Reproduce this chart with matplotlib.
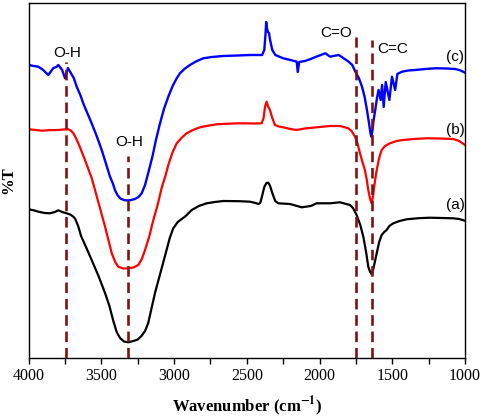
import matplotlib
matplotlib.use('Agg')
import matplotlib.pyplot as plt
import numpy as np

plt.rcParams['mathtext.fontset'] = 'stix'

# (a) black  (wavenumber, %T in arbitrary offset units)
wn_a = [4000, 3960, 3934, 3890, 3853, 3820, 3796, 3770, 3739, 3715, 3693, 3680, 3660, 3640,
        3600, 3567, 3520, 3475, 3445, 3418, 3395, 3372, 3345, 3315, 3280, 3250, 3225, 3200,
        3178, 3155, 3130, 3100, 3063, 3030, 3006, 2975, 2948, 2920, 2879, 2830, 2776, 2720,
        2662, 2550, 2478, 2440, 2421, 2408, 2395, 2380, 2365, 2352, 2340, 2325, 2305, 2284,
        2203, 2123, 2060, 2020, 1928, 1859, 1791, 1770, 1745, 1720, 1699, 1680, 1665, 1652,
        1642, 1632, 1620, 1607, 1590, 1573, 1555, 1539, 1520, 1493, 1450, 1401, 1320, 1241,
        1160, 1080, 1040, 1000]
t_a = [148.7, 147.5, 146.3, 145, 144.7, 146, 147.7, 146, 144.7, 143.5, 141.3, 139, 132, 122,
       109, 98, 82, 65, 52, 37, 26, 20, 16.5, 15.7, 17, 18.5, 22, 27,
       35, 50, 66, 82, 102, 120, 129.7, 136, 139, 142, 148, 152, 154.7, 156,
       157, 156.8, 156.3, 155, 154, 155, 162, 171, 175, 175.3, 172, 165, 157, 154.7,
       154, 150.7, 152, 154.7, 154.7, 155.7, 153, 150, 143, 133, 121.3, 106, 91.3, 86,
       84, 88, 96, 104.7, 116, 123, 126, 128, 132, 134.7, 137, 138.7, 139.8, 140.3,
       140, 139.7, 139, 137.3]

# (b) red
wn_b = [4000, 3950, 3911, 3860, 3796, 3760, 3728, 3710, 3693, 3675, 3659, 3640, 3613, 3590,
        3567, 3544, 3510, 3475, 3450, 3429, 3405, 3384, 3350, 3315, 3280, 3246, 3222, 3200,
        3170, 3143, 3110, 3086, 3060, 3040, 3010, 2982, 2950, 2914, 2870, 2822, 2760, 2707,
        2600, 2524, 2450, 2398, 2385, 2375, 2364, 2355, 2341, 2325, 2307, 2280, 2250, 2200,
        2158, 2100, 2020, 1928, 1859, 1802, 1780, 1756, 1740, 1722, 1705, 1688, 1675, 1665,
        1652, 1642, 1632, 1620, 1607, 1590, 1573, 1550, 1516, 1470, 1424, 1350, 1263, 1170,
        1080, 1040, 1000]
t_b = [228.7, 228, 227.3, 227.8, 228, 228.5, 228.7, 227.5, 224.7, 220, 214.7, 208, 198, 189,
       180, 168, 150, 131.3, 117, 104.7, 96, 91.3, 89.5, 89.7, 90.5, 93, 99, 108,
       122, 138, 155, 170, 182, 193, 206, 214.7, 220, 224.7, 228, 230.7, 232.5, 233.7,
       234.5, 234.7, 234.5, 234.7, 240, 251.3, 256.3, 252, 248, 240, 233, 231.5, 230.7, 229,
       228, 229.5, 230.7, 232, 232, 229.7, 227, 221.3, 215, 204.7, 196, 188, 178, 168,
       159, 154.7, 162, 176, 188, 200, 208, 212, 214.7, 217, 218, 219, 219.7, 219.5,
       219, 217, 213]

# (c) blue
wn_c = [4000, 3965, 3934, 3900, 3880, 3865, 3845, 3830, 3810, 3796, 3770, 3750, 3730, 3716,
        3690, 3670, 3645, 3625, 3600, 3567, 3530, 3498, 3470, 3441, 3420, 3407, 3390, 3370,
        3345, 3320, 3295, 3270, 3245, 3223, 3200, 3178, 3150, 3125, 3100, 3070, 3040, 3010,
        2985, 2960, 2925, 2891, 2850, 2800, 2740, 2662, 2560, 2478, 2395, 2380, 2372, 2367,
        2362, 2355, 2348, 2340, 2325, 2304, 2250, 2200, 2157, 2150, 2140, 2100, 2066, 2010,
        1960, 1928, 1868, 1800, 1775, 1754, 1730, 1708, 1690, 1674, 1660, 1650, 1644, 1636,
        1628, 1617, 1605, 1594, 1580, 1570, 1559, 1545, 1520, 1502, 1480, 1465, 1433, 1390,
        1342, 1270, 1204, 1130, 1067, 1030, 1000]
t_c = [293, 292, 291.3, 288, 285, 283, 287, 290, 291, 293, 288, 279.7, 290, 286.3,
       280, 271.3, 263, 254.7, 246, 234.7, 221, 208, 195, 181.3, 174, 168, 163, 159.5,
       158, 157.5, 158, 159, 161, 164.7, 173, 185, 201, 218, 233, 249, 261.3, 272,
       279, 284.7, 289.5, 293, 296.5, 299.7, 301, 302, 302.5, 303, 303, 308, 323, 336,
       330, 326, 325, 318, 308, 303, 299.7, 298, 296.3, 286, 296, 297, 298.7, 302,
       304.7, 301.3, 303, 296.3, 293, 286.3, 280, 271.3, 261, 248, 235, 225, 221.3, 228,
       238, 248, 260, 268, 258, 273, 251, 276, 258, 281.3, 268, 284, 286.3, 287.5,
       288, 289, 289.7, 289.5, 289, 287.5, 285.3]

# dashed marker lines: position, top
vline_x = [3745, 3320, 1750, 1640]
vline_top = [296, 202, 321, 318]

band_labels = ['O-H', 'O-H', 'C=O', 'C=C']
band_x = [3733, 3310, 1887, 1495]
band_y = [305, 216, 324.7, 308.7]

curve_labels = ['(a)', '(b)', '(c)']
curve_label_y = [153, 228, 301]

fig = plt.figure(figsize=(4.84, 4.2), dpi=100)
ax = fig.add_axes([0.0593, 0.1476, 0.9014, 0.8453])

for xv, top in zip(vline_x, vline_top):
    ax.plot([xv, xv], [0, top], color='#7d1315', lw=1.9, dashes=(4, 2.2), zorder=3)

ax.plot(wn_a, t_a, color='black', lw=1.6, zorder=2)
ax.plot(wn_b, t_b, color='#ff0000', lw=1.6, zorder=2)
ax.plot(wn_c, t_c, color='#0000ff', lw=1.7, zorder=2)

for lab, xv, yv in zip(band_labels, band_x, band_y):
    ax.text(xv, yv, lab, ha='center', va='center', fontsize=11, family='Liberation Sans')
for lab, yv in zip(curve_labels, curve_label_y):
    ax.text(1069, yv, lab, ha='center', va='center', fontsize=11, family='Liberation Sans')

ax.set_xlim(4000, 1000)
ax.set_ylim(0, 355)
ax.set_xticks([4000, 3500, 3000, 2500, 2000, 1500, 1000])
ax.set_xticks(np.arange(1250, 4000, 500), minor=True)
ax.set_yticks([])
ax.tick_params(axis='x', which='both', direction='out', length=4, width=1, labelsize=11.5)
for lab in ax.get_xticklabels():
    lab.set_family('Liberation Serif')
for s in ax.spines.values():
    s.set_linewidth(1.0)

ax.set_xlabel('Wavenumber (cm$^{\\mathbf{-1}}$)', fontsize=12, fontweight='bold',
              family='Liberation Serif', labelpad=7)
ax.set_ylabel('%T', fontsize=12, fontweight='bold', family='Liberation Serif', labelpad=9)

plt.savefig('out.png')
